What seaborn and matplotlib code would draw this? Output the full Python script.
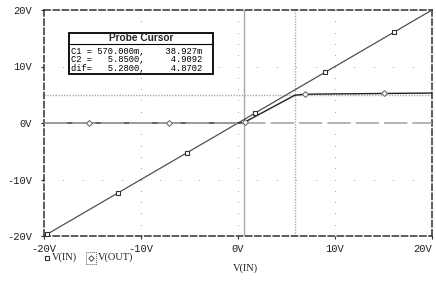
import matplotlib
matplotlib.use("Agg")
import matplotlib.pyplot as plt
import seaborn as sns
import pandas as pd
import numpy as np
from matplotlib.patches import Rectangle

# ---- data ----
vin_x = [-20, 20]
vin_y = [-20, 20]
vin_mark_x = [-19.7, -12.4, -5.3, 1.75, 9.0, 16.1]
vin_mark_y = [-19.7, -12.4, -5.3, 1.75, 9.0, 16.1]

vout_x = [-20, 0.3, 0.57, 5.85, 6.6, 8.0, 20]
vout_y = [0.0, 0.0, 0.039, 4.909, 5.05, 5.12, 5.3]
vout_mark_x = [-15.4, -7.1, 0.75, 6.9, 15.0]
vout_mark_y = [0.0, 0.0, 0.2, 5.08, 5.25]

c1 = (0.570, 0.038927)
c2 = (5.85, 4.9092)
cursor_rows = ["C1 = 570.000m,    38.927m",
               "C2 =   5.8500,     4.9092",
               "dif=   5.2800,     4.8702"]

xticks = [-20, -10, 0, 10, 20]
yticks = [-20, -10, 0, 10, 20]
xticklabels = ["-20V", "-10V", "0V", "10V", "20V"]
yticklabels = ["-20V", "-10V", "0V", "10V", "20V"]

sns.set_theme(style="white")
plt.rcParams['font.family'] = ['Liberation Mono', 'DejaVu Sans']

fig = plt.figure(figsize=(4.36, 2.86), dpi=100)
ax = fig.add_axes([44/436, 1-236/286, 388/436, 226/286])
ax.set_xlim(-20, 20)
ax.set_ylim(-20, 20)

lc = "#505050"
gc = "#a8a8a8"

# grid dots
for g in [-10, 0, 10]:
    ax.plot([g]*21, np.arange(-20, 21, 2), ls="none", marker="s", ms=0.7, mew=0, color=gc, zorder=1)
    if g != 0:
        ax.plot(np.arange(-20, 21, 2), [g]*21, ls="none", marker="s", ms=0.7, mew=0, color=gc, zorder=1)

df_in = pd.DataFrame({"x": vin_x, "y": vin_y})
df_out = pd.DataFrame({"x": vout_x, "y": vout_y})
sns.lineplot(data=df_in, x="x", y="y", ax=ax, color=lc, lw=0.9, sort=False, zorder=3)
sns.lineplot(data=df_out, x="x", y="y", ax=ax, color="#202020", lw=1.0, sort=False, zorder=3)

# cursors
ax.axvline(c1[0], color="#a8a8a8", lw=1.0, zorder=2)
ax.axhline(c1[1], color="#a8a8a8", lw=1.2, ls=(0, (14, 3)), zorder=3.5)
ax.axvline(c2[0], color="#a8a8a8", lw=1.0, ls=(0, (1, 1)), zorder=2)
ax.axhline(c2[1], color="#a8a8a8", lw=1.0, ls=(0, (1, 1)), zorder=2)

ax.plot(vin_mark_x, vin_mark_y, ls="none", marker="s", ms=3.3, mfc="white", mec="#303030", mew=0.8, zorder=4)
ax.plot(vout_mark_x, vout_mark_y, ls="none", marker="D", ms=3.0, mfc="white", mec="#606060", mew=0.7, zorder=4)

# frame
for s in ax.spines.values():
    s.set_linestyle((0, (4, 2)))
    s.set_linewidth(1.1)
    s.set_color("#303030")

ax.set_xticks(xticks)
ax.set_yticks(yticks)
ax.set_xticklabels(xticklabels)
ax.set_yticklabels(yticklabels)
ax.tick_params(axis="both", direction="out", length=2.5, width=0.8, color="#303030",
               labelsize=7.5, labelcolor="#202020", bottom=True, left=True)
ax.tick_params(axis="y", pad=6)
ax.tick_params(axis="x", pad=3)
ax.get_xticklabels()[-1].set_horizontalalignment("right")
ax.set_xlabel("")
ax.set_ylabel("")

# x label
fig.text(245/436, 1-268/286, "V(IN)", family="Liberation Serif", fontsize=7.5,
         ha="center", va="center", color="#202020")

# legend
fig.lines.append(plt.Line2D([47/436], [1-258/286], marker="s", ms=3.0, mfc="white",
                            mec="#303030", mew=0.8, ls="none", transform=fig.transFigure))
fig.text(52/436, 1-257/286, "V(IN)", family="Liberation Serif", fontsize=7.5, va="center", color="#202020")
fig.patches.append(Rectangle((86/436, 1-264/286), 10/436, 12/286, fill=False, ec="#606060",
                             lw=0.7, ls=(0, (1, 1)), transform=fig.transFigure))
fig.lines.append(plt.Line2D([91/436], [1-258/286], marker="D", ms=2.8, mfc="white",
                            mec="#505050", mew=0.7, ls="none", transform=fig.transFigure))
fig.text(98/436, 1-257/286, "V(OUT)", family="Liberation Serif", fontsize=7.5, va="center", color="#202020")

# probe cursor box
bx0, bx1, by0, by1 = 69, 213, 33, 73.5
fig.patches.append(Rectangle((bx0/436, 1-by1/286), (bx1-bx0)/436, (by1-by0)/286, facecolor="white",
                             ec="black", lw=1.3, transform=fig.transFigure, zorder=10))
fig.lines.append(plt.Line2D([bx0/436, bx1/436], [1-43.5/286, 1-43.5/286], color="black", lw=0.8,
                            transform=fig.transFigure, zorder=11))
fig.text((bx0+bx1)/2/436, 1-38.3/286, "Probe Cursor", family="Liberation Sans", fontweight="bold",
         fontsize=7.3, ha="center", va="center", zorder=12)
for i, row in enumerate(cursor_rows):
    yy = 1-(51+8.7*i)/286
    fig.text(71/436, yy, row, fontsize=6.3, va="center", ha="left", zorder=12, color="black")

fig.savefig("out.png", dpi=100)
